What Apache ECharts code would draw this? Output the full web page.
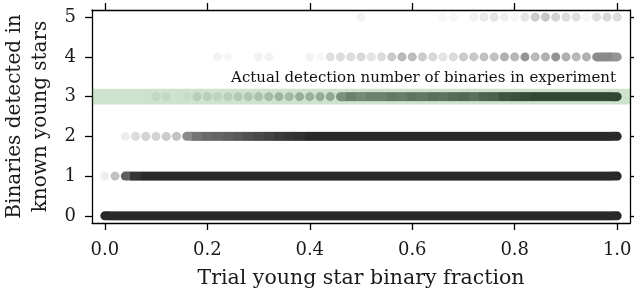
<!DOCTYPE html>
<html>
<head>
<meta charset="utf-8">
<script src="https://cdn.jsdelivr.net/npm/echarts@6/dist/echarts.min.js"></script>
<style>
html,body{margin:0;padding:0;background:#fff;}
#chart{width:634px;height:291px;}
</style>
</head>
<body>
<div id="chart"></div>
<script>
// Trial binary fraction bins (x)
const fractionBins = [0,0.02,0.04,0.06,0.08,0.10,0.12,0.14,0.16,0.18,
  0.20,0.22,0.24,0.26,0.28,0.30,0.32,0.34,0.36,0.38,
  0.40,0.42,0.44,0.46,0.48,0.50,0.52,0.54,0.56,0.58,
  0.60,0.62,0.64,0.66,0.68,0.70,0.72,0.74,0.76,0.78,
  0.80,0.82,0.84,0.86,0.88,0.90,0.92,0.94,0.96,0.98,
  1.00];
// Detected-binary count levels (y)
const detectionCounts = [0,1,2,3,4,5];
// Point density (opacity) along each count level
const row0Density = [1,1,1,1,1,1,1,1,1,1, 1,1,1,1,1,1,1,1,1,1, 1,1,1,1,1,1,1,1,1,1, 1,1,1,1,1,1,1,1,1,1, 1,1,1,1,1,1,1,1,1,1, 1];
const row1Density = [0.1,0.35,0.75,0.95,1,1,1,1,1,1, 1,1,1,1,1,1,1,1,1,1, 1,1,1,1,1,1,1,1,1,1, 1,1,1,1,1,1,1,1,1,1, 1,1,1,1,1,1,1,1,1,1, 1];
const row2Density = [0,0,0.1,0.2,0.25,0.25,0.3,0.35,0.55,0.65, 0.7,0.72,0.75,0.78,0.82,0.85,0.88,0.92,0.95,0.97, 1,1,1,1,1,1,1,1,1,1, 1,1,1,1,1,1,1,1,1,1, 1,1,1,1,1,1,1,1,1,1, 1];
const row3Density = [0,0,0,0,0,0.08,0.08,0,0.04,0.15, 0.15,0.12,0.15,0.2,0.22,0.25,0.3,0.35,0.32,0.4, 0.38,0.42,0.45,0.5,0.6,0.55,0.6,0.6,0.65,0.62, 0.68,0.65,0.7,0.68,0.72,0.75,0.7,0.78,0.8,0.88, 0.9,0.92,0.95,0.95,0.95,0.95,0.95,0.95,0.95,0.95, 0.95];
const row4Density = [0,0,0,0,0,0,0,0,0,0, 0,0.07,0.05,0,0,0.07,0.07,0,0,0, 0.07,0.04,0.18,0.2,0.2,0.22,0.15,0.2,0.3,0.4, 0.38,0.3,0.22,0.15,0.2,0.3,0.32,0.35,0.35,0.45, 0.42,0.5,0.4,0.45,0.5,0.45,0.4,0.45,0.55,0.55, 0.5];
const row5Density = [0,0,0,0,0,0,0,0,0,0, 0,0,0,0,0,0,0,0,0,0, 0,0,0,0,0,0.07,0,0,0,0, 0,0,0,0.05,0.05,0,0.08,0.12,0.15,0.1, 0.05,0.15,0.3,0.32,0.25,0.2,0.18,0.05,0.18,0.22, 0.2];
// Observed detection number (band) and tick labels
const observedBand = [2.8, 3.2];
const observedLabel = 'Actual detection number of binaries in experiment';
const xTickValues = [0,0.2,0.4,0.6,0.8,1.0];
const xMinorTickValues = [0.05,0.1,0.15,0.25,0.3,0.35,0.45,0.5,0.55,0.65,0.7,0.75,0.85,0.9,0.95];
const yTickValues = [0,1,2,3,4,5];

const rows = [row0Density,row1Density,row2Density,row3Density,row4Density,row5Density];
const pointData = [];
rows.forEach((row, k) => {
  row.forEach((a, i) => {
    if (a > 0) pointData.push([fractionBins[i], detectionCounts[k], a, i, k]);
  });
});

const FONT = 'DejaVu Serif';
const INK = '#292929';
const R = 4.5;
const SOLID = 0.5;

const chart = echarts.init(document.getElementById('chart'), null, {renderer:'canvas'});

function xAxisBase(pos){
  return {type:'value', position:pos, min:-0.025, max:1.025, splitLine:{show:false},
    axisLine:{show:false}, axisLabel:{show:false}, axisTick:{show:false}};
}
const xBottom = Object.assign(xAxisBase('bottom'), {
  name:'Trial young star binary fraction', nameLocation:'middle', nameGap:56,
  nameTextStyle:{fontFamily:FONT, fontSize:20.5, color:'#1a1a1a', verticalAlign:'middle'},
  axisLine:{show:true, onZero:false, lineStyle:{color:'#000', width:1.3}},
  axisTick:{show:true, length:7, customValues:xTickValues, lineStyle:{color:'#000', width:1.3}},
  axisLabel:{show:true, margin:18, customValues:xTickValues, fontFamily:FONT, fontSize:18, color:'#1a1a1a',
    formatter:v=>v.toFixed(1)}
});
const xBottomMinor = Object.assign(xAxisBase('bottom'), {
  axisTick:{show:true, length:4, customValues:xMinorTickValues, lineStyle:{color:'#000', width:1.1}}
});
const xTop = Object.assign(xAxisBase('top'), {
  axisLine:{show:true, onZero:false, lineStyle:{color:'#000', width:1.3}},
  axisTick:{show:true, length:7, customValues:xTickValues, lineStyle:{color:'#000', width:1.3}}
});
const xTopMinor = Object.assign(xAxisBase('top'), {
  axisTick:{show:true, length:4, customValues:xMinorTickValues, lineStyle:{color:'#000', width:1.1}}
});

chart.setOption({
  animation:false,
  backgroundColor:'#fff',
  grid:{left:92, right:4, top:10, bottom:68, containLabel:false, outerBoundsMode:'none'},
  xAxis:[xBottom, xBottomMinor, xTop, xTopMinor],
  yAxis:[
    {type:'value', position:'left', min:-0.18, max:5.18, splitLine:{show:false},
      name:'Binaries detected in\nknown young stars', nameLocation:'middle', nameGap:60, nameRotate:90,
      nameTextStyle:{fontFamily:FONT, fontSize:20, color:'#1a1a1a', lineHeight:26, verticalAlign:'middle', align:'center'},
      axisLine:{show:true, onZero:false, lineStyle:{color:'#000', width:1.3}},
      axisTick:{show:true, length:7, customValues:yTickValues, lineStyle:{color:'#000', width:1.3}},
      axisLabel:{show:true, margin:16, customValues:yTickValues, fontFamily:FONT, fontSize:18, color:'#1a1a1a'}},
    {type:'value', position:'right', min:-0.18, max:5.18, splitLine:{show:false},
      axisLine:{show:true, onZero:false, lineStyle:{color:'#000', width:1.3}},
      axisTick:{show:true, length:7, customValues:yTickValues, lineStyle:{color:'#000', width:1.3}},
      axisLabel:{show:false}}
  ],
  series:[
    {
      type:'custom', xAxisIndex:0, yAxisIndex:0, z:2, silent:true,
      data:pointData,
      renderItem:function(params, api){
        const x = api.value(0), y = api.value(1), a = api.value(2);
        const i = api.value(3), k = api.value(4);
        const row = rows[k];
        const p = api.coord([x, y]);
        if (a < SOLID) {
          return {type:'circle', shape:{cx:p[0], cy:p[1], r:R-0.3},
            style:{fill:INK, stroke:INK, lineWidth:0.5, opacity:a*0.8}};
        }
        const hasL = i > 0 && row[i-1] >= SOLID;
        const hasR = i < row.length-1 && row[i+1] >= SOLID;
        const pl = api.coord([x-0.01, y]);
        const pr = api.coord([x+0.01, y]);
        const left = hasL ? Math.round(pl[0]) : p[0]-R;
        const right = hasR ? Math.round(pr[0]) : p[0]+R;
        return {type:'rect',
          shape:{x:left, y:p[1]-R, width:right-left, height:2*R,
            r:[hasL?0:R, hasR?0:R, hasR?0:R, hasL?0:R]},
          style:{fill:INK, opacity:a}};
      }
    },
    {
      type:'custom', xAxisIndex:0, yAxisIndex:0, z:5, silent:true,
      data:[observedBand],
      renderItem:function(params, api){
        const cs = params.coordSys;
        const y0 = api.coord([0, api.value(0)])[1];
        const y1 = api.coord([0, api.value(1)])[1];
        return {type:'group', children:[
          {type:'rect', shape:{x:cs.x, y:y1, width:cs.width, height:y0-y1},
            style:{fill:'rgba(44,140,44,0.24)'}},
          {type:'text', x:cs.x+cs.width-14, y:y1-3,
            style:{text:observedLabel, fontFamily:FONT, fontSize:15, fill:'#111', align:'right', verticalAlign:'bottom'}}
        ]};
      }
    }
  ]
});
</script>
</body>
</html>
